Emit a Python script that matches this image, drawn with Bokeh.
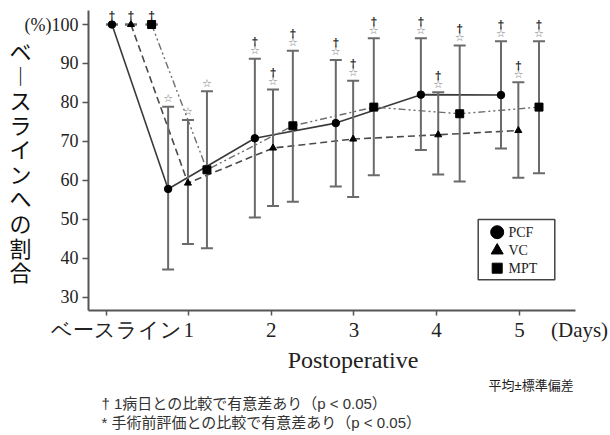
from bokeh.plotting import figure
from bokeh.models import Range1d, FixedTicker, Label, ColumnDataSource, Title
from bokeh.embed import file_html
from bokeh.resources import INLINE
from bokeh.core.properties import value

# ---------------- data ----------------
series_names = ["PCF", "VC", "MPT"]
day_ticks = [0, 1, 2, 3, 4, 5]
day_labels = ["ベースライン", "1", "2", "3", "4", "5"]
x_unit = "(Days)"
x_title = "Postoperative"
y_unit = "(%)"
y_title = "ベースラインへの割合"
stat_note = "平均±標準偏差"

pcf_x = [0.07, 0.75, 1.80, 2.78, 3.81, 4.78]
pcf_mean = [100, 57.8, 70.8, 74.7, 82.0, 81.9]
pcf_upper = [100, 78.9, 91.2, 90.9, 96.5, 95.7]
pcf_lower = [100, 37.1, 50.5, 58.4, 67.8, 68.2]

vc_x = [0.30, 0.99, 2.02, 2.99, 4.02, 4.99]
vc_mean = [100, 59.3, 68.3, 70.6, 71.7, 72.8]
vc_upper = [100, 75.5, 83.3, 85.6, 82.6, 85.2]
vc_lower = [100, 43.7, 53.4, 55.7, 61.5, 60.7]

mpt_x = [0.55, 1.22, 2.26, 3.24, 4.28, 5.24]
mpt_mean = [100, 62.7, 74.0, 78.8, 77.1, 78.8]
mpt_upper = [100, 82.9, 93.3, 96.5, 94.6, 95.7]
mpt_lower = [100, 42.6, 54.5, 61.3, 59.7, 61.8]

# significance flags per time point (same for all three series)
sig_dagger = [True, False, True, True, True, True]   # † vs day 1
sig_star = [False, True, True, True, True, True]     # * vs pre-op

y_ticks = [30, 40, 50, 60, 70, 80, 90, 100]

footnote1 = "† 1病日との比較で有意差あり（p < 0.05）"
footnote2 = "* 手術前評価との比較で有意差あり（p < 0.05）"

# ---------------- figure ----------------
FW, FH = 487, 300
p = figure(width=610, height=435,
           x_range=Range1d(-0.214, 5.682), y_range=Range1d(26.6, 103.6),
           output_backend="svg", toolbar_location=None,
           min_border_left=88, min_border_right=35,
           min_border_top=10, min_border_bottom=125)
p.outline_line_color = None
p.xgrid.visible = False
p.ygrid.visible = False
p.background_fill_color = "white"
p.border_fill_color = "white"

SERIF = "Liberation Serif"
JP = "Noto Sans CJK JP"
NOTE_FONT = "Liberation Sans, Noto Sans CJK JP"
AX = "#555555"
TXT = "#222222"
NB = "\u00a0"

# y axis
p.yaxis.ticker = FixedTicker(ticks=y_ticks)
p.yaxis.major_label_overrides = {100: y_unit + "100"}
p.yaxis.axis_line_color = AX
p.yaxis.axis_line_width = 2
p.yaxis.major_tick_line_color = AX
p.yaxis.major_tick_line_width = 1.5
p.yaxis.major_tick_in = 0
p.yaxis.major_tick_out = 6
p.yaxis.minor_tick_line_color = None
p.yaxis.major_label_standoff = 4
p.yaxis.major_label_text_font = SERIF
p.yaxis.major_label_text_font_size = "18px"
p.yaxis.major_label_text_color = TXT
p.yaxis.axis_label = "\n".join("︱" if c == "ー" else c for c in y_title)
p.yaxis.axis_label_orientation = "horizontal"
p.yaxis.axis_label_text_font = JP
p.yaxis.axis_label_text_font_size = "22px"
p.yaxis.axis_label_text_font_style = "normal"
p.yaxis.axis_label_text_color = "#111111"
p.yaxis.axis_label_text_line_height = 0.768
p.yaxis.axis_label_standoff = -10

# x axis
xl = {t: l for t, l in zip(day_ticks, day_labels)}
xl[0] = NB * 4 + xl[0]
xl[5] = NB * 16 + xl[5] + NB * 5 + x_unit
p.xaxis.ticker = FixedTicker(ticks=day_ticks)
p.xaxis.major_label_overrides = xl
p.xaxis.axis_line_color = AX
p.xaxis.axis_line_width = 2
p.xaxis.major_tick_line_color = AX
p.xaxis.major_tick_line_width = 1.5
p.xaxis.major_tick_in = 0
p.xaxis.major_tick_out = 5
p.xaxis.minor_tick_line_color = None
p.xaxis.major_label_standoff = 2
p.xaxis.major_label_text_font = SERIF
p.xaxis.major_label_text_font_size = "21px"
p.xaxis.major_label_text_color = TXT
p.xaxis.axis_label = NB * 7 + x_title
p.xaxis.axis_label_text_font = SERIF
p.xaxis.axis_label_text_font_size = "24px"
p.xaxis.axis_label_text_font_style = "normal"
p.xaxis.axis_label_text_color = TXT
p.xaxis.axis_label_standoff = 2

styles = [
    dict(x=pcf_x, m=pcf_mean, u=pcf_upper, l=pcf_lower, marker="circle", size=7.5,
         color="#3a3a3a", dash="solid", lw=1.6),
    dict(x=vc_x, m=vc_mean, u=vc_upper, l=vc_lower, marker="triangle", size=7,
         color="#4a4a4a", dash="7 4", lw=1.6),
    dict(x=mpt_x, m=mpt_mean, u=mpt_upper, l=mpt_lower, marker="square", size=8,
         color="#6e6e6e", dash="7 3 2 3 2 3", lw=1.4),
]

EB = "#6a6a6a"
for s in styles:
    p.line(s["x"], s["m"], line_color=s["color"], line_width=s["lw"], line_dash=s["dash"])
for s in styles:
    p.segment(x0=s["x"], y0=s["l"], x1=s["x"], y1=s["u"], line_color=EB, line_width=2)
    p.scatter(s["x"], s["u"], marker="dash", size=12, line_color=EB, line_width=2)
    p.scatter(s["x"], s["l"], marker="dash", size=12, line_color=EB, line_width=2)
for s in styles:
    p.scatter(s["x"], s["m"], marker=s["marker"], size=s["size"],
              fill_color="black", line_color="black")

# significance marks
for s in styles:
    dx, dy, doff, sx_, sy_, soff = [], [], [], [], [], []
    for i in range(len(s["x"])):
        if sig_star[i]:
            sx_.append(s["x"][i]); sy_.append(s["u"][i]); soff.append(-8)
        if sig_dagger[i]:
            dx.append(s["x"][i]); dy.append(s["u"][i]); doff.append(-17 if sig_star[i] else -9)
    p.text(x="x", y="y", y_offset="o", text=value("†"),
           source=ColumnDataSource(dict(x=dx, y=dy, o=doff)),
           text_font=value("DejaVu Serif"), text_font_size="11px", text_color="black",
           text_font_style="bold", text_align="center", text_baseline="middle")
    p.text(x="x", y="y", y_offset="o", text=value("☆"),
           source=ColumnDataSource(dict(x=sx_, y=sy_, o=soff)),
           text_font=value("DejaVu Sans"), text_font_size="11px", text_color="#777777",
           text_align="center", text_baseline="middle")

# ---------------- legend (drawn in frame pixel space) ----------------
p.extra_x_ranges = {"px": Range1d(0, FW)}
p.extra_y_ranges = {"py": Range1d(0, FH)}
p.quad(left=[389.7], right=[466.3], top=[91], bottom=[30.7], x_range_name="px", y_range_name="py",
       fill_color="white", line_color="#444444", line_width=1.5)
leg_y = [78.3, 60, 42.3]
leg_marker = [("circle", 13), ("triangle", 12), ("square", 10)]
for name, yy, (mk, sz) in zip(series_names, leg_y, leg_marker):
    p.scatter([408.7], [yy], marker=mk, size=sz, fill_color="black", line_color="black",
              x_range_name="px", y_range_name="py")
    p.add_layout(Label(x=420, y=yy, x_units="screen", y_units="screen", text=name,
                       text_font=SERIF, text_font_size="14px", text_color=TXT,
                       text_baseline="middle", text_align="left"))

# ---------------- notes below the axis ----------------
p.add_layout(Title(text=stat_note, align="left", offset=400, standoff=0,
                   text_font=NOTE_FONT, text_font_size="13px", text_font_style="normal",
                   text_color=TXT), "below")
for fn in (footnote1, footnote2):
    p.add_layout(Title(text=fn, align="left", offset=13, standoff=0,
                       text_font=NOTE_FONT, text_font_size="15px", text_font_style="normal",
                       text_color="#333333"), "below")

open("out.html", "w").write(file_html(p, INLINE))
